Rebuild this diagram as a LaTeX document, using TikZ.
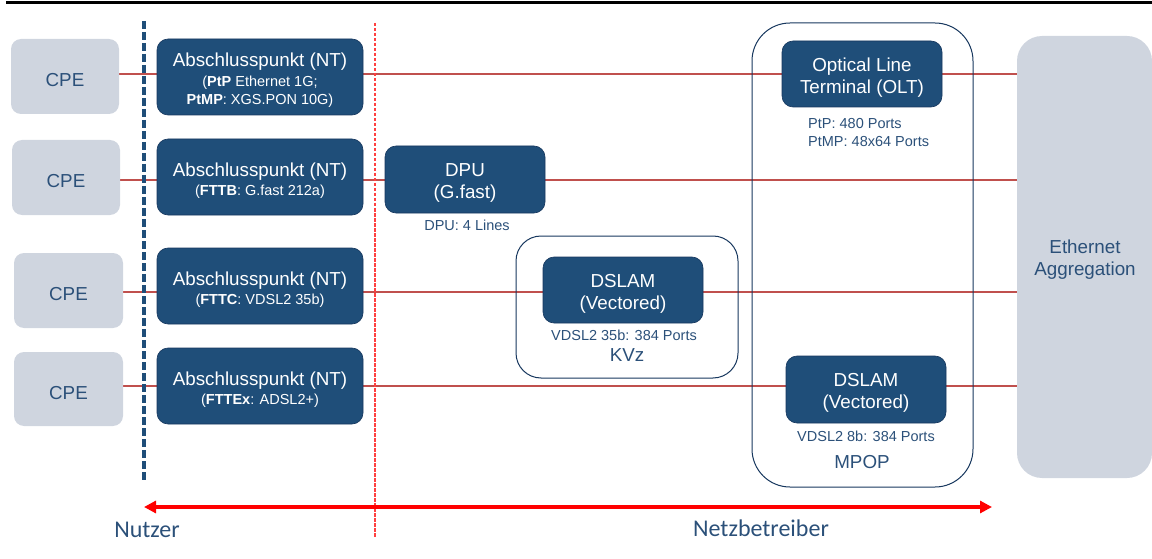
\documentclass[tikz,border=0pt]{standalone}
\usepackage{fontspec}
\setmainfont{Liberation Sans}
\newfontfamily\carl{Carlito}
\usetikzlibrary{arrows.meta,backgrounds}
\definecolor{nblue}{HTML}{1F4E79}
\definecolor{nborder}{HTML}{17375E}
\definecolor{cgrey}{HTML}{CFD5DF}
\definecolor{tblue}{HTML}{2B5079}
\definecolor{lred}{HTML}{C0504D}
\definecolor{bred}{HTML}{FF0000}
\definecolor{dred}{HTML}{FF4040}
\newcommand\subfnt{\fontsize{14.5}{18}\selectfont}
\newcommand\fst{\rule{0pt}{20.5pt}}
\tikzset{
  greybox/.style={fill=cgrey, draw=none, rounded corners=10pt, text=tblue, align=center, inner sep=0pt,
    font=\fontsize{18.8}{22}\selectfont},
  darkbox/.style={fill=nblue, draw=nborder, line width=0.6pt, rounded corners=11pt, text=white, align=center,
    inner sep=0pt, font=\fontsize{18.8}{22}\selectfont},
  lbl/.style={text=tblue, inner sep=0pt, align=center, font=\fontsize{14.5}{18}\selectfont},
  bigl/.style={text=tblue, inner sep=0pt, font=\fontsize{18.8}{22}\selectfont},
  link/.style={draw=lred, line width=1.2pt},
  framebox/.style={draw=nborder, line width=1pt, fill=none},
  sidelbl/.style={text=tblue, inner sep=0pt, font=\carl\fontsize{24}{28}\selectfont},
  bluedash/.style={draw=nblue, line width=3.4pt},
  reddash/.style={draw=dred, line width=1.2pt}
}
\begin{document}
\begin{tikzpicture}[x=1pt,y=-1pt]
\useasboundingbox (0,0) rectangle (1152,559);
% top rule
\draw[line width=3pt] (6,3) -- (1152,3);

% frames
\node[framebox, rounded corners=25pt, minimum width=222, minimum height=142] (kvzf) at (627,307) {};
\node[framebox, rounded corners=38pt, minimum width=221, minimum height=464] (mpopf) at (862.5,255) {};

% CPE
\node[greybox, minimum width=108, minimum height=75] (cpe1) at (65,76.5) {\fst CPE};
\node[greybox, minimum width=108, minimum height=75] (cpe2) at (66,177.5) {\fst CPE};
\node[greybox, minimum width=109, minimum height=75] (cpe3) at (68.5,290.5) {\fst CPE};
\node[greybox, minimum width=109, minimum height=74] (cpe4) at (68.5,389) {\fst CPE};

% NT
\node[darkbox, minimum width=206, minimum height=76] (nt1) at (260,77)
  {\fst Abschlusspunkt (NT)\\[-2pt]{\subfnt(\textbf{PtP} Ethernet 1G;}\\[-4pt]{\subfnt\textbf{PtMP}: XGS.PON 10G)}};
\node[darkbox, minimum width=206, minimum height=76] (nt2) at (260,177)
  {\fst Abschlusspunkt (NT)\\[-3pt]{\subfnt(\textbf{FTTB}: G.fast 212a)}};
\node[darkbox, minimum width=206, minimum height=76] (nt3) at (260,286)
  {\fst Abschlusspunkt (NT)\\[-3pt]{\subfnt(\textbf{FTTC}: VDSL2 35b)}};
\node[darkbox, minimum width=206, minimum height=76] (nt4) at (260,386)
  {\fst Abschlusspunkt (NT)\\[-3pt]{\subfnt(\textbf{FTTEx}: ADSL2+)}};

% DPU
\node[darkbox, minimum width=160, minimum height=67] (dpu) at (465,179.5) {\fst DPU\\(G.fast)};
\node[lbl] (dpul) at (467,225) {DPU: 4 Lines};

% DSLAM KVz
\node[darkbox, minimum width=160, minimum height=66] (dslam1) at (623,290) {\fst DSLAM\\(Vectored)};
\node[lbl] (dslam1l) at (624,335) {VDSL2 35b: 384 Ports};
\node[bigl] (kvz) at (627,355) {KVz};

% OLT
\node[darkbox, minimum width=160, minimum height=66] (olt) at (862,74) {\fst Optical Line\\Terminal (OLT)};
\node[lbl, anchor=west] (oltl1) at (808,124) {PtP: 480 Ports};
\node[lbl, anchor=west] (oltl2) at (808,142) {PtMP: 48x64 Ports};

% DSLAM MPOP
\node[darkbox, minimum width=160, minimum height=67] (dslam2) at (866,389.5) {\fst DSLAM\\(Vectored)};
\node[lbl] (dslam2l) at (866,436) {VDSL2 8b: 384 Ports};
\node[bigl] (mpop) at (862,462) {MPOP};

% Ethernet aggregation
\node[greybox, rounded corners=25pt, minimum width=135, minimum height=442] (eth) at (1084.5,257) {};
\node[bigl, align=center] (ethl) at (1085,260) {Ethernet\\Aggregation};

% links
\coordinate (r1) at (0,74);
\coordinate (r2) at (0,180);
\coordinate (r3) at (0,292);
\coordinate (r4) at (0,386);
\begin{scope}[on background layer]
\draw[link] (cpe1.east |- r1) -- (eth.west |- r1);
\draw[link] (cpe2.east |- r2) -- (eth.west |- r2);
\draw[link] (cpe3.east |- r3) -- (eth.west |- r3);
\draw[link] (cpe4.east |- r4) -- (eth.west |- r4);
\end{scope}

% boundaries (dashes drawn as segments)
\foreach \k in {0,...,41} {
  \draw[bluedash] (144,21+11*\k) -- (144,29+11*\k);
}
\foreach \k in {0,...,102} {
  \draw[reddash] (375,23+5*\k) -- (375,26.5+5*\k);
}

% arrow
\coordinate (a1) at (144,507);
\coordinate (a2) at (992,507);
\draw[color=bred, line width=4pt, {Triangle[length=12pt,width=12pt]}-{Triangle[length=12pt,width=12pt]}] (a1) -- (a2);
\node[sidelbl] (nutzer) at (147,530) {Nutzer};
\node[sidelbl] (netz) at (761,528) {Netzbetreiber};
\end{tikzpicture}
\end{document}
